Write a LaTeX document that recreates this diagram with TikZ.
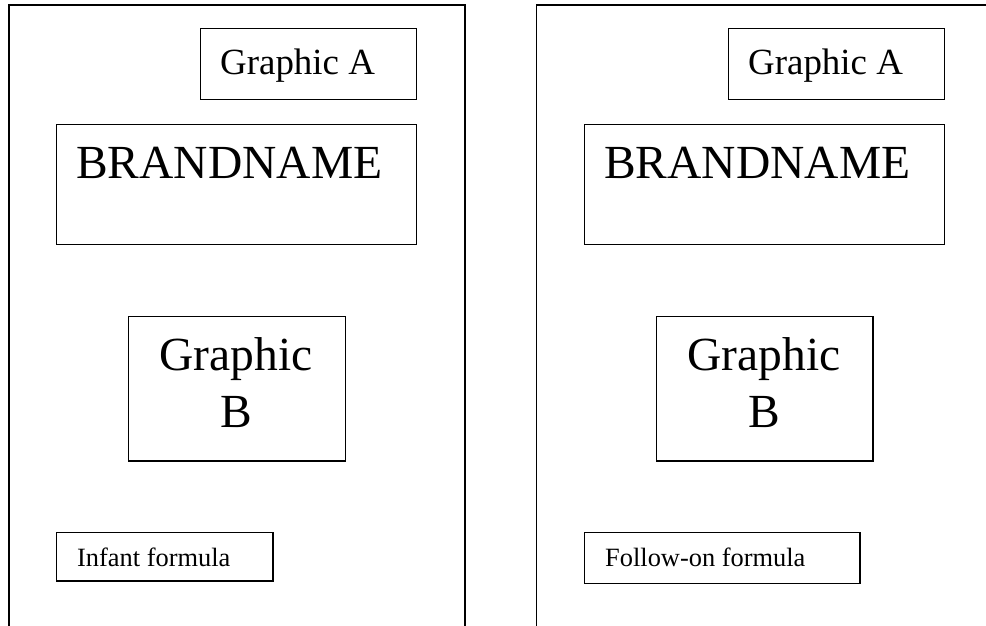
\documentclass[tikz,border=0pt]{standalone}
\usepackage{fontspec}
\setmainfont{Liberation Serif}
\begin{document}
\begin{tikzpicture}[x=1pt,y=1pt,
  panel/.style={draw=black, line width=1.6pt, rectangle, inner sep=0pt, anchor=north west},
  box/.style={draw=black, line width=1.2pt, rectangle, inner sep=0pt, anchor=north west},
  txt/.style={inner sep=0pt, anchor=base west},
  fA/.style={font=\fontsize{36.9}{44}\selectfont},
  fBig/.style={font=\fontsize{47.5}{56.6}\selectfont},
  fSmall/.style={font=\fontsize{26.4}{31}\selectfont}]
\useasboundingbox (0,0) rectangle (986,-625);
\clip (0,0) rectangle (986,-625);
% left panel
\node[panel, minimum width=455.7pt, minimum height=660pt] (pL) at (8.3,-4) {};
\node[box, minimum width=216pt, minimum height=71pt] (gaL) at (200,-28) {};
\node[txt, fA] (gaLt) at (220,-74) {Graphic A};
\node[box, minimum width=360pt, minimum height=119.7pt] (bnL) at (56,-124) {};
\node[txt, fBig] (bnLt) at (76,-178) {BRANDNAME};
\node[box, minimum width=217pt, minimum height=144.6pt] (gbL) at (127.7,-315.7) {};
\node[inner sep=0pt, anchor=base, align=center, fBig] (gbLt) at (236,-427.3) {Graphic\\B};
\node[box, minimum width=216.6pt, minimum height=48.6pt] (ifL) at (55.7,-531.7) {};
\node[txt, fSmall] (ifLt) at (77,-566.7) {Infant formula};
% right panel
\node[panel, minimum width=455.7pt, minimum height=660pt] (pR) at (535.7,-4) {};
\node[box, minimum width=216.3pt, minimum height=71pt] (gaR) at (727.7,-28) {};
\node[txt, fA] (gaRt) at (748,-74) {Graphic A};
\node[box, minimum width=360.3pt, minimum height=119.7pt] (bnR) at (583.7,-124) {};
\node[txt, fBig] (bnRt) at (604,-178) {BRANDNAME};
\node[box, minimum width=216.6pt, minimum height=144.6pt] (gbR) at (655.7,-315.7) {};
\node[inner sep=0pt, anchor=base, align=center, fBig] (gbRt) at (764,-427.3) {Graphic\\B};
\node[box, minimum width=275.6pt, minimum height=50.7pt] (ffR) at (583.7,-532) {};
\node[txt, fSmall] (ffRt) at (605,-566.7) {Follow-on formula};
\end{tikzpicture}
\end{document}
